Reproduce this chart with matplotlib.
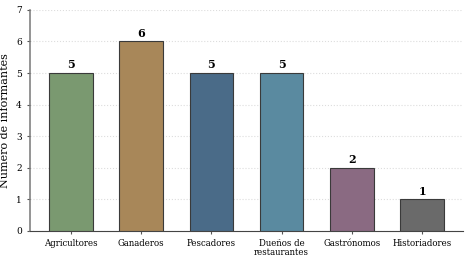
import matplotlib.pyplot as plt

# Data
categories = ['Agricultores', 'Ganaderos', 'Pescadores', 'Dueños de\nrestaurantes', 'Gastrónomos', 'Historiadores']
counts = [5, 6, 5, 5, 2, 1]
colors = ['#7a9970', '#a88759', '#4a6b88', '#5a8aa0', '#8a6a82', '#6a6a6a']

plt.rcParams['font.family'] = 'DejaVu Serif'

fig = plt.figure(figsize=(4.7, 2.6), dpi=100)
ax = fig.add_axes([0.064, 0.112, 0.921, 0.85])

x = range(len(categories))
bars = ax.bar(x, counts, width=0.62, color=colors, edgecolor='#3a3a3a', linewidth=0.8, zorder=3)

for b, v in zip(bars, counts):
    ax.text(b.get_x() + b.get_width() / 2, v + 0.08, str(v), ha='center', va='bottom',
            fontsize=8, fontweight='bold')

ax.set_xticks(list(x))
ax.set_xticklabels(categories, fontsize=6.2, linespacing=0.95)
ax.set_ylim(0, 7)
ax.set_xlim(-0.58, 5.58)
ax.set_yticks(range(8))
ax.tick_params(axis='y', labelsize=6.5, length=2.5, color='#555555')
ax.tick_params(axis='x', length=2.5, color='#555555')
ax.set_ylabel('Número de informantes', fontsize=8)

ax.grid(axis='y', linestyle=':', color='#dddddd', linewidth=0.8, zorder=0)
ax.spines['top'].set_visible(False)
ax.spines['right'].set_visible(False)
ax.spines['left'].set_color('#777777')
ax.spines['left'].set_linewidth(1.1)
ax.spines['bottom'].set_color('#444444')

fig.savefig('out.png', dpi=100)
